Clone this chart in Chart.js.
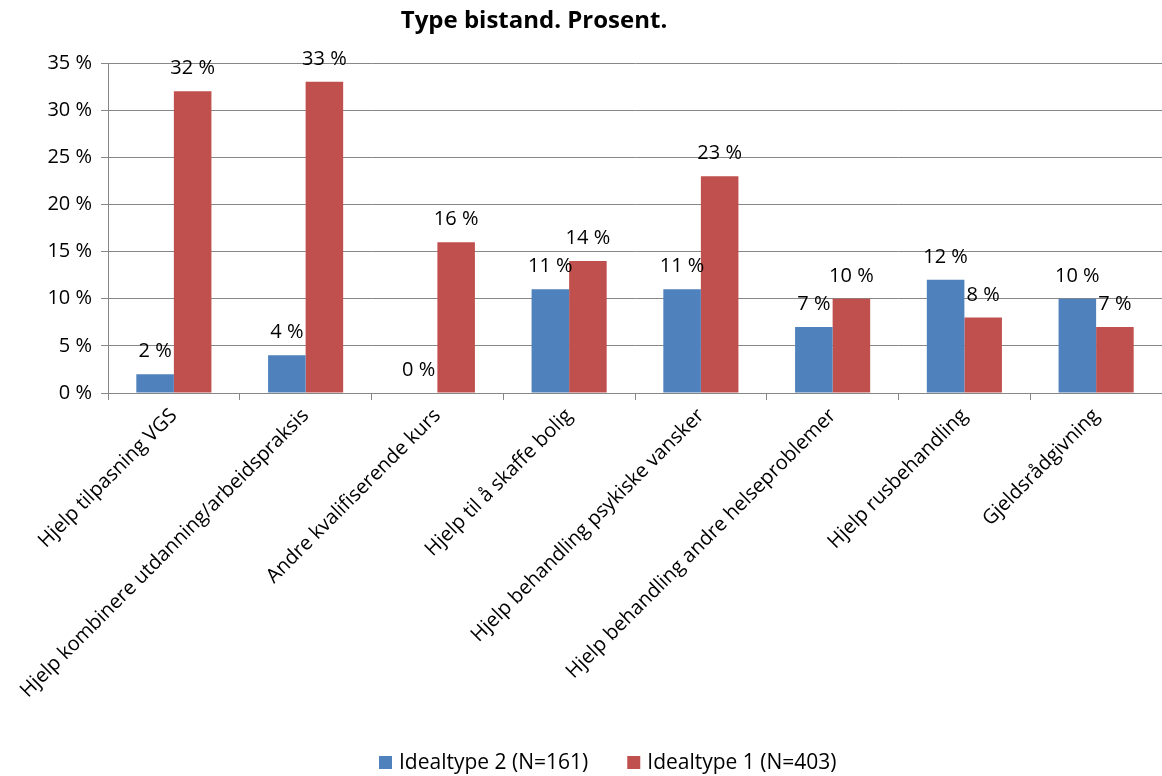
<!DOCTYPE html>
<html>
<head>
<meta charset="utf-8">
<script src="https://cdn.jsdelivr.net/npm/chart.js@4"></script>
<style>
  html, body { margin: 0; padding: 0; background: #fff; overflow: hidden; }
  #wrap { width: 1162px; height: 776px; }
</style>
</head>
<body>
<div id="wrap"><canvas id="chart" width="1162" height="776"></canvas></div>
<script>
const categories = [
  'Hjelp tilpasning VGS',
  'Hjelp kombinere utdanning/arbeidspraksis',
  'Andre kvalifiserende kurs',
  'Hjelp til å skaffe bolig',
  'Hjelp behandling psykiske vansker',
  'Hjelp behandling andre helseproblemer',
  'Hjelp rusbehandling',
  'Gjeldsrådgivning'
];
const idealtype2 = [2, 4, 0, 11, 11, 7, 12, 10];
const idealtype1 = [32, 33, 16, 14, 23, 10, 8, 7];
const yTicks = [0, 5, 10, 15, 20, 25, 30, 35];

const FONT = '"Open Sans", Lato, sans-serif';
const GRID = '#878787';

/* ── value labels above each bar ── */
const barLabels = {
  id: 'barLabels',
  afterDatasetsDraw(chart) {
    const { ctx } = chart;
    ctx.save();
    ctx.font = '20px ' + FONT;
    ctx.fillStyle = '#000';
    ctx.textAlign = 'center';
    ctx.textBaseline = 'alphabetic';
    chart.data.datasets.forEach((ds, i) => {
      chart.getDatasetMeta(i).data.forEach((bar, j) => {
        ctx.fillText(ds.data[j] + ' %', bar.x, bar.y - 17);
      });
    });
    ctx.restore();
  }
};

/* ── title and legend ── */
const titleAndLegend = {
  id: 'titleAndLegend',
  afterDraw(chart) {
    const { ctx } = chart;
    ctx.save();
    ctx.fillStyle = '#000';
    ctx.font = 'bold 24px ' + FONT;
    ctx.textAlign = 'center';
    ctx.textBaseline = 'middle';
    ctx.fillText('Type bistand. Prosent.', 534, 21);

    ctx.font = '21px ' + FONT;
    ctx.textAlign = 'left';
    let x = 379;
    const y = 762;
    chart.data.datasets.forEach(ds => {
      ctx.fillStyle = ds.backgroundColor;
      ctx.fillRect(x, y - 6, 13, 13);
      ctx.fillStyle = '#000';
      ctx.fillText(ds.label, x + 20, y + 1);
      x += 20 + ctx.measureText(ds.label).width + 39;
    });
    ctx.restore();
  }
};

new Chart(document.getElementById('chart'), {
  type: 'bar',
  data: {
    labels: categories,
    datasets: [
      { label: 'Idealtype 2 (N=161)', data: idealtype2, backgroundColor: '#4F81BD' },
      { label: 'Idealtype 1 (N=403)', data: idealtype1, backgroundColor: '#C0504D' }
    ]
  },
  options: {
    responsive: false,
    animation: false,
    layout: { padding: { top: 63, right: 0, bottom: 56, left: 0 } },
    datasets: { bar: { categoryPercentage: 0.57, barPercentage: 1 } },
    plugins: {
      legend: { display: false },
      title: { display: false },
      tooltip: { enabled: false }
    },
    scales: {
      x: {
        afterFit(scale) { scale.height = 327; },
        grid: { drawOnChartArea: false, drawTicks: true, tickLength: 7, color: GRID },
        border: { color: GRID, width: 1 },
        ticks: {
          color: '#000',
          font: { family: FONT, size: 20 },
          maxRotation: 45,
          minRotation: 45,
          autoSkip: false,
          padding: 4
        }
      },
      y: {
        min: 0,
        max: 35,
        afterFit(scale) { scale.width = 108; },
        afterBuildTicks(scale) { scale.ticks = yTicks.map(v => ({ value: v })); },
        grid: { color: GRID, tickLength: 7 },
        border: { color: GRID, width: 1 },
        ticks: {
          color: '#000',
          font: { family: FONT, size: 20 },
          padding: 9,
          callback: v => v + ' %'
        }
      }
    }
  },
  plugins: [barLabels, titleAndLegend]
});
</script>
</body>
</html>
